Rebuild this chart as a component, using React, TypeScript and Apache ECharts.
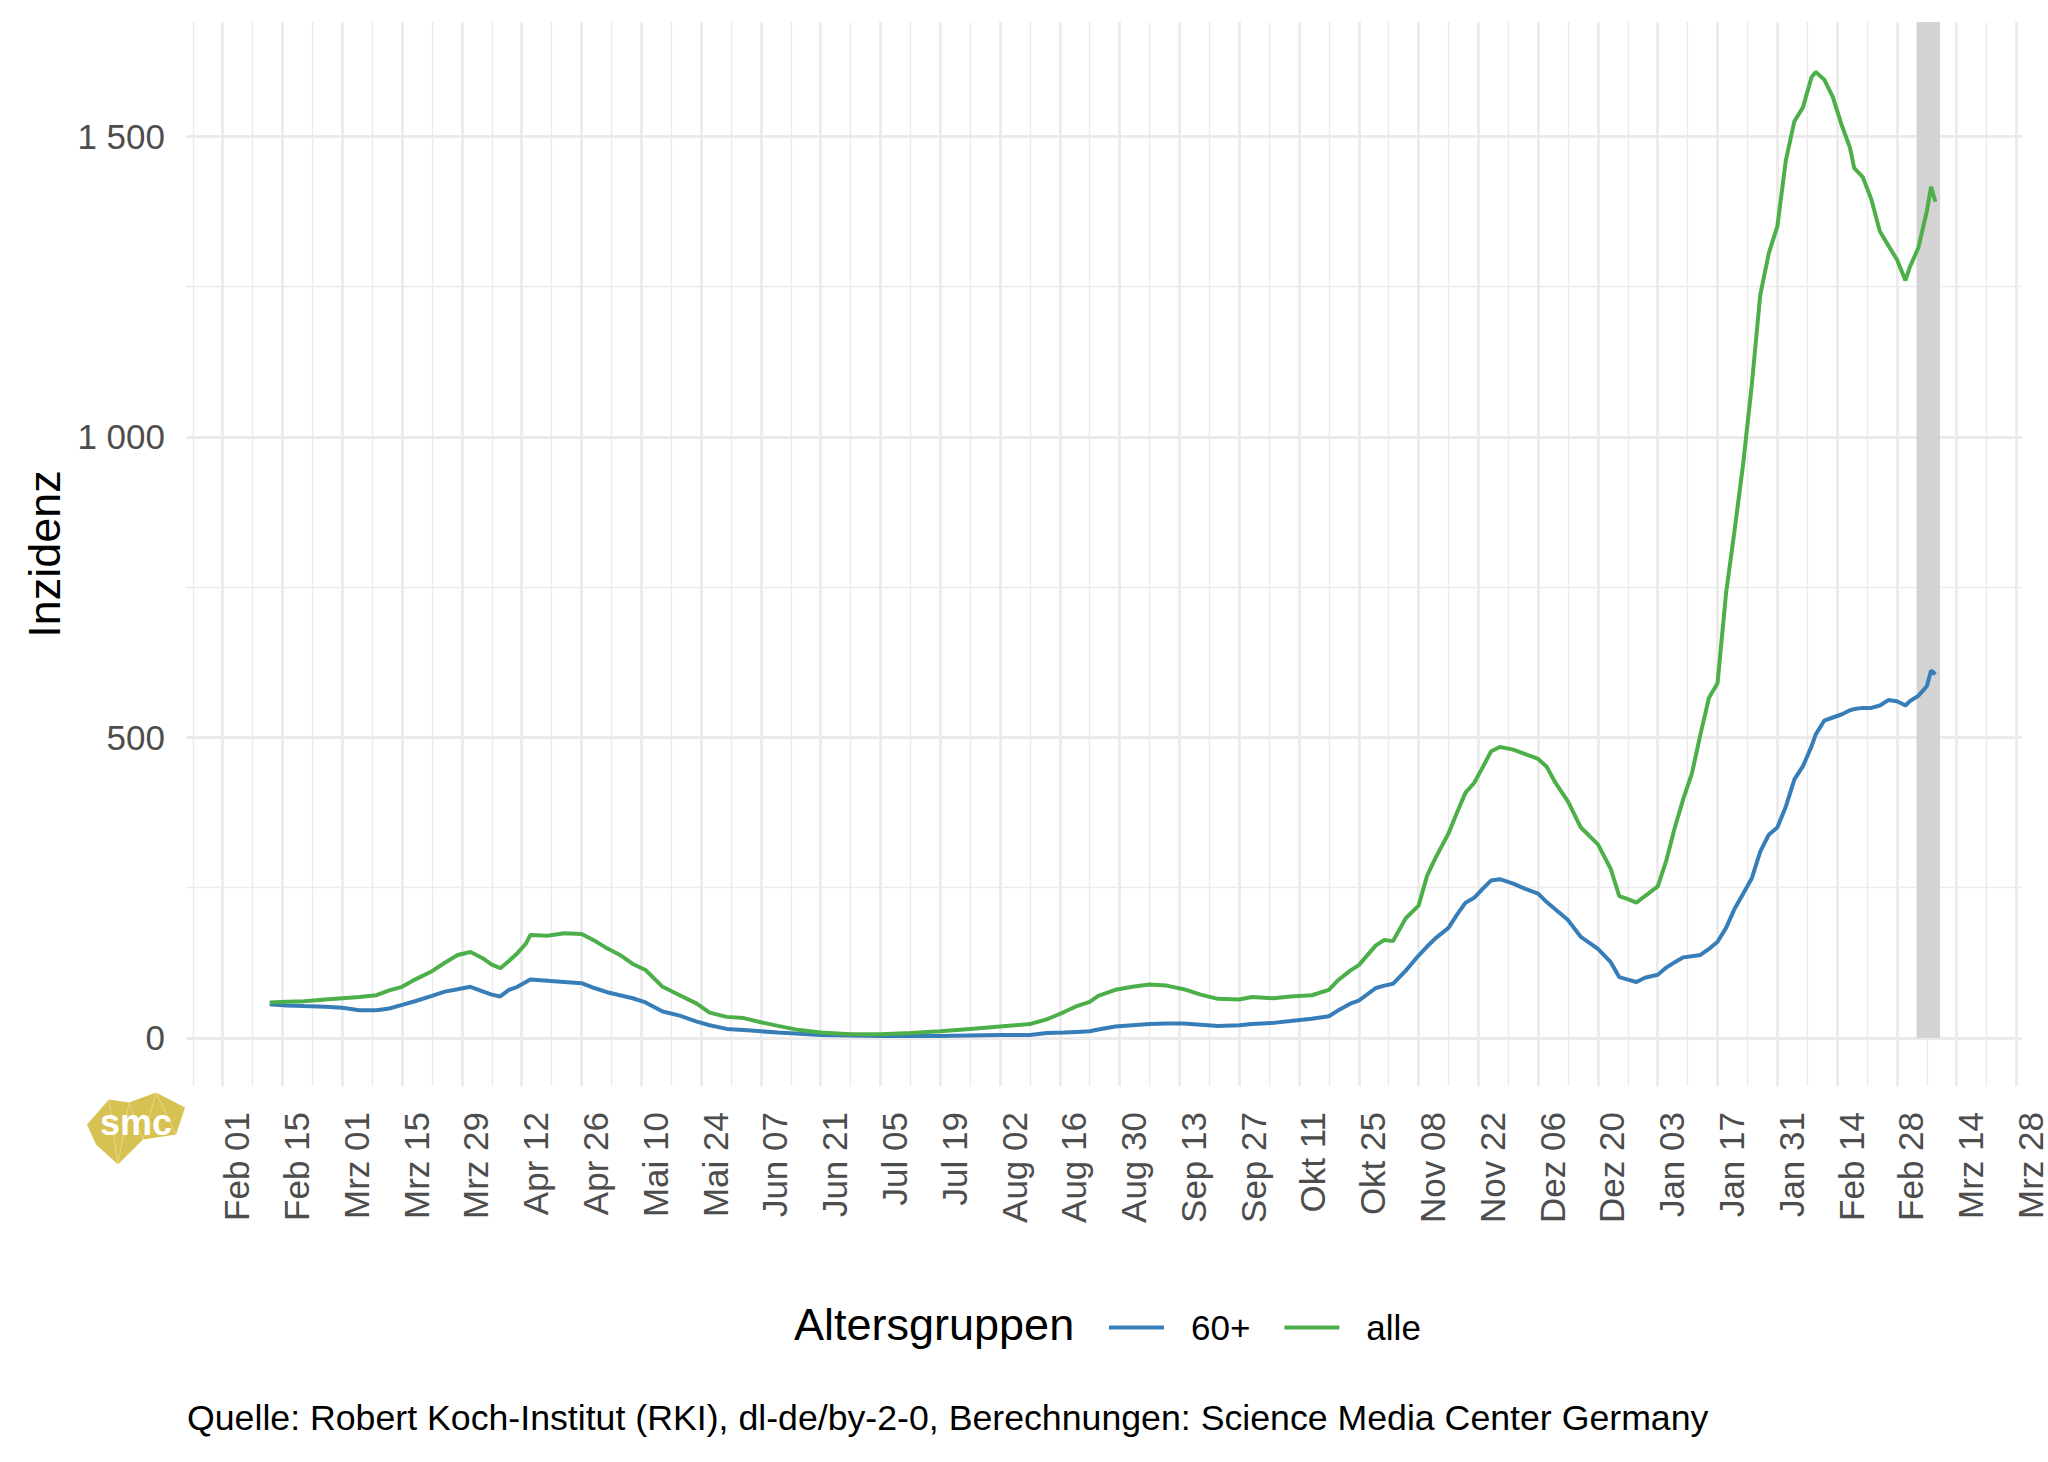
import React, { useEffect, useRef } from "react";
import * as echarts from "echarts";

// ---- data -------------------------------------------------------------
const dates = [
  "2021-02-12","2021-02-16","2021-02-20","2021-02-25","2021-03-01","2021-03-05","2021-03-09","2021-03-12","2021-03-15","2021-03-18","2021-03-22","2021-03-25","2021-03-28","2021-03-31",
  "2021-04-03","2021-04-05","2021-04-07","2021-04-09","2021-04-11","2021-04-13","2021-04-14","2021-04-18","2021-04-22","2021-04-26","2021-04-29",
  "2021-05-02","2021-05-05","2021-05-08","2021-05-11","2021-05-15","2021-05-19","2021-05-23","2021-05-26","2021-05-30",
  "2021-06-03","2021-06-07","2021-06-11","2021-06-16","2021-06-21","2021-06-28",
  "2021-07-05","2021-07-12","2021-07-19","2021-07-26",
  "2021-08-02","2021-08-09","2021-08-13","2021-08-17","2021-08-20","2021-08-23","2021-08-25","2021-08-29",
  "2021-09-02","2021-09-06","2021-09-10","2021-09-14","2021-09-18","2021-09-22","2021-09-27","2021-09-30",
  "2021-10-05","2021-10-09","2021-10-14","2021-10-18","2021-10-20","2021-10-23","2021-10-25","2021-10-29","2021-10-31",
  "2021-11-02","2021-11-05","2021-11-08","2021-11-10","2021-11-12","2021-11-15","2021-11-17","2021-11-19","2021-11-21","2021-11-23","2021-11-25","2021-11-27","2021-11-30",
  "2021-12-03","2021-12-06","2021-12-08","2021-12-10","2021-12-13","2021-12-16","2021-12-20","2021-12-23","2021-12-25","2021-12-27","2021-12-29","2021-12-31",
  "2022-01-03","2022-01-05","2022-01-07","2022-01-09","2022-01-11","2022-01-13","2022-01-15","2022-01-17","2022-01-19","2022-01-21","2022-01-23","2022-01-25","2022-01-27","2022-01-29","2022-01-31",
  "2022-02-02","2022-02-04","2022-02-06","2022-02-08","2022-02-09","2022-02-11","2022-02-13","2022-02-15","2022-02-17","2022-02-18","2022-02-20","2022-02-22","2022-02-24","2022-02-26","2022-02-28",
  "2022-03-02","2022-03-03","2022-03-05","2022-03-07","2022-03-08","2022-03-09",
];

const alle = [
  59, 60, 61, 64, 66, 68, 71, 79, 85, 97, 111, 125, 138, 143,
  132, 122, 116, 128, 141, 157, 171, 170, 174, 173, 162,
  149, 138, 123, 113, 85, 71, 57, 42, 35,
  33, 26, 20, 13, 9, 6,
  6, 8, 11, 15,
  19, 23, 31, 43, 53, 60, 70, 80,
  85, 89, 87, 81, 72, 65, 64, 68,
  66, 69, 71, 80, 95, 112, 121, 154, 163,
  161, 199, 220, 270, 300, 340, 375, 408, 424, 450, 477, 484, 480,
  472, 464, 451, 425, 393, 350, 322, 281, 236, 231, 225, 236,
  252, 295, 350, 398, 440, 505, 566, 590, 740, 845, 955, 1085, 1236, 1305, 1350,
  1460, 1525, 1548, 1598, 1607, 1594, 1565, 1520, 1481, 1447, 1432, 1395, 1342, 1318, 1295,
  1260, 1282, 1314, 1375, 1416, 1391,
];

const sechzigPlus = [
  56, 54, 53, 52, 50, 46, 46, 49, 55, 61, 70, 77, 81, 85,
  77, 72, 69, 80, 85, 93, 97, 95, 93, 91, 83,
  76, 71, 66, 59, 44, 37, 27, 21, 15,
  13, 11, 9, 7, 5, 4,
  3, 3, 3, 4,
  5, 5, 8, 9, 10, 11, 14, 19,
  21, 23, 24, 24, 22, 20, 21, 23,
  25, 28, 32, 36, 45, 57, 62, 83, 87,
  90, 112, 137, 152, 166, 183, 205, 225, 233, 248, 262, 264, 257,
  248, 240, 226, 214, 196, 168, 148, 126, 101, 97, 93, 100,
  105, 117, 126, 134, 136, 138, 148, 160, 183, 215, 240, 265, 310, 338, 350,
  385, 430, 452, 485, 505, 528, 533, 538, 545, 547, 549, 549, 553, 562, 560,
  553, 560, 569, 585, 611, 605,
];

const seriesNames = ["60+", "alle"];
const seriesColors = ["#377EB8", "#4DAF4A"];
const monthNames = ["Jan", "Feb", "Mrz", "Apr", "Mai", "Jun", "Jul", "Aug", "Sep", "Okt", "Nov", "Dez"];
const firstTickDate = "2021-02-01";
const lastTickDate = "2022-03-28";
const yMajorTicks = [0, 500, 1000, 1500];
const yMinorTicks = [250, 750, 1250];
const bandFrom = "2022-03-05";
const bandTo = "2022-03-10";

const yAxisTitle = "Inzidenz";
const legendTitle = "Altersgruppen";
const caption = "Quelle: Robert Koch-Institut (RKI), dl-de/by-2-0, Berechnungen: Science Media Center Germany";

// ---- helpers ----------------------------------------------------------
const DAY = 86400000;
const parseUTC = (s: string) => {
  const [y, m, d] = s.split("-").map(Number);
  return Date.UTC(y, m - 1, d);
};
const ORIGIN = parseUTC(firstTickDate);
const dayIndex = (s: string) => (parseUTC(s) - ORIGIN) / DAY;
const dayLabel = (v: number) => {
  const d = new Date(ORIGIN + Math.round(v) * DAY);
  return `${monthNames[d.getUTCMonth()]} ${String(d.getUTCDate()).padStart(2, "0")}`;
};

const X_MIN = -8.6;
const X_MAX = 421.3;
const Y_MIN = -80;
const Y_MAX = 1690;

const GRID_COLOR = "#EBEBEB";
const FONT = "'Liberation Sans', Arial, Helvetica, sans-serif";

export default function App() {
  const ref = useRef<HTMLDivElement>(null);

  useEffect(() => {
    if (!ref.current) return;
    const chart = echarts.init(ref.current, undefined, { renderer: "svg" });

    const lastTick = dayIndex(lastTickDate);
    const majorX: number[] = [];
    const minorX: number[] = [];
    for (let d = -7; d <= lastTick; d += 7) {
      if (d % 14 === 0) majorX.push(d);
      else minorX.push(d);
    }

    const gridLines = [
      ...minorX.map((d) => ({ xAxis: d, lineStyle: { color: GRID_COLOR, width: 1.4, type: "solid" } })),
      ...majorX.map((d) => ({ xAxis: d, lineStyle: { color: GRID_COLOR, width: 2.8, type: "solid" } })),
      ...yMinorTicks.map((v) => ({ yAxis: v, lineStyle: { color: GRID_COLOR, width: 1.4, type: "solid" } })),
      ...yMajorTicks.map((v) => ({ yAxis: v, lineStyle: { color: GRID_COLOR, width: 2.8, type: "solid" } })),
    ];

    const values = [sechzigPlus, alle];

    const option: any = {
      animation: false,
      textStyle: { fontFamily: FONT },
      grid: { left: 186, right: 24, top: 22, bottom: 376, containLabel: false },
      xAxis: {
        type: "value",
        min: X_MIN,
        max: X_MAX,
        axisLine: { show: false },
        axisTick: { show: false },
        splitLine: { show: false },
        axisLabel: {
          customValues: majorX,
          formatter: (v: number) => dayLabel(v),
          rotate: 90,
          verticalAlign: "top",
          lineHeight: 28,
          margin: 26,
          fontSize: 35,
          color: "#4D4D4D",
          fontFamily: FONT,
        },
      },
      yAxis: {
        type: "value",
        min: Y_MIN,
        max: Y_MAX,
        axisLine: { show: false },
        axisTick: { show: false },
        splitLine: { show: false },
        axisLabel: {
          customValues: yMajorTicks,
          formatter: (v: number) => String(v).replace(/\B(?=(\d{3})+(?!\d))/g, " "),
          margin: 21,
          fontSize: 35,
          color: "#4D4D4D",
          fontFamily: FONT,
        },
      },
      legend: {
        data: seriesNames,
        left: 1104,
        top: 1305,
        orient: "horizontal",
        icon: "rect",
        itemWidth: 55,
        itemHeight: 4,
        itemGap: 34,
        textStyle: { fontSize: 35, color: "#000", fontFamily: FONT, padding: [0, 0, 0, 22] },
        selectedMode: false,
      },
      graphic: [
        {
          type: "text",
          x: 44,
          y: 554,
          rotation: Math.PI / 2,
          style: { text: yAxisTitle, fontSize: 45, fill: "#000", align: "center", verticalAlign: "middle", fontFamily: FONT },
        },
        {
          type: "text",
          left: 794,
          top: 1302,
          style: { text: legendTitle, fontSize: 45, fill: "#000", fontFamily: FONT },
        },
        {
          type: "text",
          left: 187,
          top: 1400,
          style: { text: caption, fontSize: 35.7, fill: "#000", fontFamily: FONT },
        },
        {
          type: "group",
          left: 87,
          top: 1090,
          children: [
            {
              type: "polygon",
              shape: {
                points: [
                  [0, 32], [22, 7], [42, 10], [69, 0], [98, 15], [89, 42], [56, 47], [31, 72], [9, 52],
                ],
              },
              style: { fill: "#D7C152" },
            },
            {
              type: "polyline",
              shape: { points: [[22, 7], [31, 72], [42, 10], [56, 47], [69, 0], [89, 42]] },
              style: { stroke: "#F3E7A8", lineWidth: 0.8, fill: null, opacity: 0.7 },
            },
            {
              type: "text",
              x: 49,
              y: 30,
              style: {
                text: "smc",
                fontSize: 36,
                fontWeight: "bold",
                fill: "#FFFFFF",
                align: "center",
                verticalAlign: "middle",
                fontFamily: FONT,
              },
            },
          ],
        },
      ],
      series: [
        {
          name: "grid",
          type: "line",
          data: [],
          silent: true,
          z: 1,
          markLine: {
            silent: true,
            symbol: ["none", "none"],
            label: { show: false },
            z: 0,
            animation: false,
            data: gridLines,
          },
          markArea: {
            silent: true,
            z: 1,
            itemStyle: { color: "#D3D3D3", opacity: 1 },
            label: { show: false },
            data: [
              [
                { xAxis: dayIndex(bandFrom) - 0.4, yAxis: 0 },
                { xAxis: dayIndex(bandTo) + 0.1, yAxis: Y_MAX },
              ],
            ],
          },
        },
        ...seriesNames.map((name, k) => ({
          name,
          type: "line",
          z: 3 + k,
          showSymbol: false,
          symbol: "none",
          smooth: false,
          silent: true,
          itemStyle: { color: seriesColors[k] },
          lineStyle: { color: seriesColors[k], width: 4 },
          data: dates.map((d, i) => [dayIndex(d), values[k][i]]),
        })),
      ],
    };

    chart.setOption(option);
    return () => chart.dispose();
  }, []);

  return (
    <div
      ref={ref}
      style={{ position: "fixed", left: 0, top: 0, width: 2048, height: 1462, background: "#fff" }}
    />
  );
}
